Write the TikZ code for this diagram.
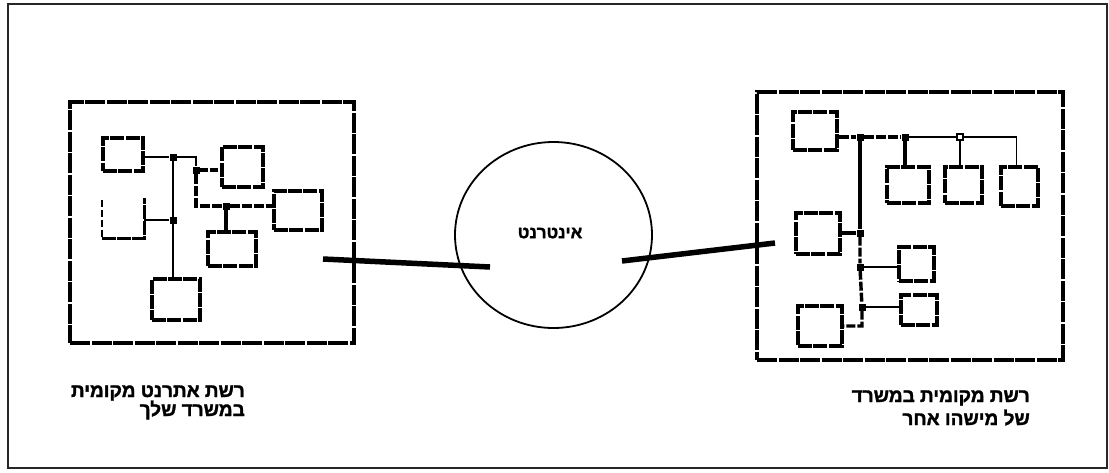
\documentclass[tikz,border=0pt]{standalone}
\usepackage{fontspec}
\setmainfont{Liberation Sans}
\newfontfamily\hebfont[Script=Hebrew, FakeBold=1.6]{Liberation Sans Bold}
\TeXXeTstate=1
\usetikzlibrary{shapes.geometric}
\begin{document}
\begin{tikzpicture}[x=1pt,y=-1pt,
  lanframe/.style={draw, line width=3.2pt, dash pattern=on 20pt off 1.5pt, minimum width=#1},
  pc/.style={draw, line width=3.2pt, dash pattern=on 14pt off 1.3pt, inner sep=0pt},
  wire/.style={line width=1.6pt},
  heavywire/.style={line width=3.4pt},
  uplink/.style={line width=5.5pt},
  tap/.style={fill=black, minimum size=7pt, inner sep=0pt},
  opentap/.style={draw, fill=white, line width=1.8pt, minimum size=6pt, inner sep=0pt},
  label/.style={font=\hebfont\fontsize{19}{22}\selectfont, inner sep=0pt}
]
\useasboundingbox (0,0) rectangle (1109,472);
\draw[line width=2.2pt, black!85] (8,4) rectangle (1107,468);

% ---------- the office LAN on the left ----------
\node[lanframe=284pt, minimum height=241pt] (lanL) at (212,222.5) {};
\node[pc, minimum width=40pt, minimum height=33pt] (la) at (123,154.5) {};
\node[pc, minimum width=41pt, minimum height=40pt] (lb) at (242.5,167) {};
\node[pc, minimum width=48pt, minimum height=39pt] (lc) at (298,210.5) {};
\node[pc, minimum width=48pt, minimum height=34pt] (ld) at (232,249) {};
\node[pc, minimum width=48pt, minimum height=41pt] (le) at (176,299.5) {};
\node[minimum width=42pt, minimum height=38pt, inner sep=0pt] (lf) at (123,219) {};
\draw[line width=2.4pt, dash pattern=on 7pt off 3pt] (lf.north west) -- (lf.south west);
\draw[line width=3.2pt, dash pattern=on 14pt off 1.3pt] (lf.south west) -- (lf.south east) -- ([yshift=2pt]lf.north east);

\node[tap] (s1) at (173,157) {};
\node[tap] (s2) at (196,170) {};
\node[tap] (s3) at (226,206) {};
\node[tap] (s4) at (173,220) {};

\draw[wire] (s1 -| la.east) -- (s1) -- (196,157) -- (s2);
\draw[heavywire, dash pattern=on 8pt off 2pt] (s2) -- (s2 -| lb.west);
\draw[heavywire, dash pattern=on 10pt off 2pt] (s2) |- (s3) -- (s3 -| lc.west);
\draw[heavywire] (s3) -- (s3 |- ld.north);
\draw[wire] (s1) -- (s1 |- le.north);
\draw[wire] (s4) -- (s4 -| lf.east);

% ---------- the Internet ----------
\node[draw, ellipse, line width=1.8pt, minimum width=197pt, minimum height=186pt, inner sep=0pt] (net) at (553.5,235) {};
\node[font=\hebfont\fontsize{17}{20}\selectfont, inner sep=0pt] (netname) at (550,233) {\beginR אינטרנט\endR};

% ---------- someone else's office LAN on the right ----------
\node[lanframe=306pt, minimum height=268pt] (lanR) at (910,226) {};
\node[pc, minimum width=44pt, minimum height=38pt] (rg) at (815,131) {};
\node[pc, minimum width=42pt, minimum height=36pt] (rh) at (908,185) {};
\node[pc, minimum width=37pt, minimum height=36pt] (ri) at (963.5,185) {};
\node[pc, minimum width=37pt, minimum height=39pt] (rj) at (1019.5,186.5) {};
\node[pc, minimum width=44pt, minimum height=41pt] (rk) at (818,233.5) {};
\node[pc, minimum width=35pt, minimum height=34pt] (rl) at (916.5,264) {};
\node[pc, minimum width=36pt, minimum height=30pt] (rn) at (919,310) {};
\node[pc, minimum width=44pt, minimum height=40pt] (rm) at (820,326) {};

\node[tap] (j1) at (860,137) {};
\node[tap] (j2) at (905,137) {};
\node[opentap] (j3) at (960,137) {};
\node[tap] (j4) at (860,233) {};
\node[tap] (j5) at (860,267) {};
\node[tap] (j6) at (862,307) {};

\draw[heavywire, dash pattern=on 10pt off 2pt] (j1 -| rg.east) -- (j1) -- (j2);
\draw[wire] (j2) -- (j3) -| ([xshift=-3pt]rj.north);
\draw[heavywire] (j2) -- (j2 |- rh.north);
\draw[wire] (j3) -- (j3 |- ri.north);
\draw[heavywire] (j1) -- (j4);
\draw[heavywire, dash pattern=on 9pt off 2pt] (j4) -- (j5) -- (j6) |- (rm.east);
\draw[heavywire] (j4) -- (j4 -| rk.east);
\draw[wire] (j5) -- (j5 -| rl.west);
\draw[wire] (j6) -- (j6 -| rn.west);

% ---------- links into the Internet ----------
\coordinate (portL) at (323,259);
\coordinate (popL) at (490,267);
\coordinate (popR) at (622,261);
\coordinate (portR) at (775,243);
\draw[uplink] (portL) -- (popL);
\draw[uplink] (popR) -- (portR);

% ---------- captions ----------
\node[label, anchor=base east] (capL1) at (245,397) {\beginR רשת אתרנט מקומית\endR};
\node[label, anchor=base east] (capL2) at (245,416) {\beginR במשרד שלך\endR};
\node[label, anchor=base east] (capR1) at (1030,402) {\beginR רשת מקומית במשרד\endR};
\node[label, anchor=base east] (capR2) at (1030,425) {\beginR של מישהו אחר\endR};
\end{tikzpicture}
\end{document}
